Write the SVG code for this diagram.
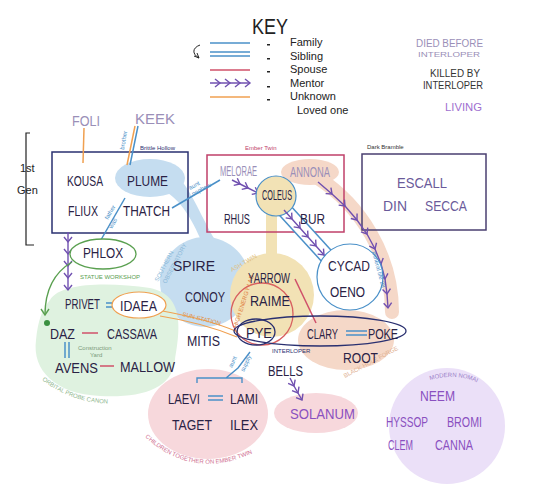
<svg xmlns="http://www.w3.org/2000/svg" width="540" height="494" viewBox="0 0 540 494">
<defs>
<style>
.n{font-family:"Liberation Sans",sans-serif;font-size:15px;fill:#2a2245}
.d{fill:#9a8fb8}
.l{fill:#8a50c0}
.s{font-family:"Liberation Sans",sans-serif;font-size:6px}
.k{font-family:"Liberation Sans",sans-serif;font-size:11px;fill:#222}
.fam{stroke:#4a90c8;stroke-width:1.5;fill:none}
.sp{stroke:#d0506a;stroke-width:1.5;fill:none}
.unk{stroke:#f0a050;stroke-width:1.5;fill:none}
.men{stroke:#7050b0;stroke-width:1.4;fill:none;marker-mid:url(#ch);marker-end:url(#ch)}
</style>
<marker id="ch" viewBox="-6 -5 8 10" markerWidth="8" markerHeight="10" markerUnits="userSpaceOnUse" orient="auto" refX="0" refY="0">
<path d="M-5,-4 L0,0 L-5,4" fill="none" stroke="#7050b0" stroke-width="1.4"/>
</marker>
<marker id="ga" viewBox="-8 -5 10 10" markerWidth="10" markerHeight="10" markerUnits="userSpaceOnUse" orient="auto">
<path d="M-6,-4 L0,0 L-6,4" fill="none" stroke="#5aa050" stroke-width="1.4"/>
</marker>
</defs>

<!-- backgrounds / regions -->
<g id="regions">
<path d="M150,185 C175,190 190,215 200,238 L215,240 C200,215 190,185 170,168 Z" fill="#c5ddf0"/>
<ellipse cx="150" cy="178" rx="35" ry="19" fill="#c5ddf0"/>
<circle cx="205" cy="282" r="45" fill="#c5ddf0"/>
<path d="M266,212 L266,258 L277,258 L277,212 Z" fill="#f2e2b5"/>
<circle cx="272" cy="295" r="42" fill="#f2e2b5"/>
<path d="M318,178 C360,205 392,255 392,312" fill="none" stroke="#f5d8c8" stroke-width="14" stroke-linecap="round"/>
<ellipse cx="310" cy="172" rx="29" ry="13" fill="#f5d8c8"/>
<ellipse cx="346" cy="340" rx="48" ry="30" fill="#f5d8c8"/>
<path d="M50,300 C60,282 110,282 150,288 C185,295 180,330 175,360 C172,390 140,398 100,396 C55,394 32,370 36,340 C38,320 42,310 50,300 Z" fill="#dff2e0"/>
<ellipse cx="208" cy="414" rx="60" ry="45" fill="#f7d8dc"/>
<ellipse cx="316" cy="413" rx="42" ry="20" fill="#f7d8dc"/>
<circle cx="447" cy="426" r="58" fill="#ebe0f8"/>
</g>

<!-- key -->
<g id="key">
<text x="252" y="34" font-family="Liberation Sans, sans-serif" font-size="22" fill="#222" textLength="36" lengthAdjust="spacingAndGlyphs">KEY</text>
<line x1="210" y1="43" x2="250" y2="43" class="fam"/>
<line x1="210" y1="52" x2="250" y2="52" class="fam"/>
<line x1="210" y1="56" x2="250" y2="56" class="fam"/>
<path d="M200,45 C192,48 192,54 199,58 M194,56 L199,58 L197,53" fill="none" stroke="#222" stroke-width="1"/>
<line x1="210" y1="70" x2="250" y2="70" class="sp"/>
<polyline points="210,83 220,83 230,83 240,83 250,83" class="men"/>
<line x1="210" y1="97" x2="250" y2="97" class="unk"/>
<g fill="#222"><rect x="267" y="44" width="3" height="1.5"/><rect x="267" y="58" width="3" height="1.5"/><rect x="267" y="71" width="3" height="1.5"/><rect x="267" y="86" width="3" height="1.5"/><rect x="267" y="99" width="3" height="1.5"/></g>
<text x="290" y="46" class="k">Family</text>
<text x="290" y="60" class="k">Sibling</text>
<text x="290" y="73" class="k">Spouse</text>
<text x="290" y="87" class="k">Mentor</text>
<text x="290" y="100" class="k">Unknown</text>
<text x="297" y="114" class="k" font-size="10">Loved one</text>
<text x="416" y="47" font-family="Liberation Sans, sans-serif" font-size="10" fill="#9a8fb8" textLength="67" lengthAdjust="spacingAndGlyphs">DIED BEFORE</text>
<text x="418" y="57" font-family="Liberation Sans, sans-serif" font-size="8" fill="#9a8fb8" textLength="62" lengthAdjust="spacingAndGlyphs">INTERLOPER</text>
<text x="430" y="77" font-family="Liberation Sans, sans-serif" font-size="10" fill="#333" textLength="50" lengthAdjust="spacingAndGlyphs">KILLED BY</text>
<text x="423" y="89" font-family="Liberation Sans, sans-serif" font-size="10" fill="#333" textLength="60" lengthAdjust="spacingAndGlyphs">INTERLOPER</text>
<text x="445" y="111" font-family="Liberation Sans, sans-serif" font-size="11" fill="#a070d0" textLength="37" lengthAdjust="spacingAndGlyphs">LIVING</text>
</g>

<!-- group boxes -->
<g id="brittle-hollow">
<rect x="52" y="152" width="136" height="81" fill="none" stroke="#2a3070" stroke-width="1.5"/>
<text x="140" y="150" class="s" fill="#2a3070" font-size="7">Brittle Hollow</text>
</g>
<g id="ember-twin">
<rect x="207" y="155" width="137" height="77" fill="none" stroke="#c0406a" stroke-width="1.5"/>
<text x="245" y="150" class="s" fill="#c0406a" font-size="7">Ember Twin</text>
</g>
<g id="dark-bramble">
<rect x="362" y="154" width="124" height="76" fill="none" stroke="#4a3f70" stroke-width="1.5"/>
<text x="367" y="149" class="s" fill="#333" font-size="7">Dark Bramble</text>
</g>
<g id="first-gen">
<path d="M30,133 L26,133 L26,245 L34,245" fill="none" stroke="#222" stroke-width="1.2"/>
<text x="20" y="172" class="k">1st</text>
<text x="17" y="194" class="k">Gen</text>
</g>

<!-- connectors -->
<g id="connectors">
<line x1="84" y1="128" x2="83" y2="163" class="unk"/>
<path d="M135,126 L127,165" class="unk"/>
<path d="M138,126 L130,165" class="fam"/>
<text transform="translate(124,150) rotate(-80)" class="s" fill="#4a90c8">brother</text>
<line x1="125" y1="198" x2="98" y2="245" class="fam"/>
<text transform="translate(108,220) rotate(-60)" class="s" fill="#4a90c8">father</text>
<text transform="translate(112,229) rotate(-60)" class="s" fill="#4a90c8">was</text>
<line x1="172" y1="208" x2="220" y2="180" class="fam"/>
<text transform="translate(190,190) rotate(-28)" class="s" fill="#4a90c8">aunt</text>
<text transform="translate(193,196) rotate(-28)" class="s" fill="#4a90c8">nephew</text>
<polyline points="68,232 68,242 68,254 68,266 68,278 68,290" class="men"/>
<path d="M72,262 C55,272 45,290 45,315" fill="none" stroke="#5aa050" stroke-width="1.4" marker-end="url(#ga)"/>
<circle cx="47" cy="323" r="3" fill="#3a9040"/>
<polyline points="232,180 240,184 248,188 258,193" class="men"/>
<path d="M280,205 L332,262" fill="none" stroke="#4a90c8" stroke-width="16"/>
<path d="M280,205 L332,262" fill="none" stroke="#fff" stroke-width="13"/>
<circle cx="276" cy="196" r="20" fill="#f2e2b5" stroke="#4a90c8" stroke-width="1.2"/>
<polyline points="284,210 292,219 300,228 308,237 316,246 324,255 330,261" class="men"/>
<polyline points="318,182 332,194 345,206 357,220 367,234 375,249 381,264 385,279 387,294 388,308" class="men"/>
<line x1="295" y1="279" x2="316" y2="323" class="sp"/>
<circle cx="262" cy="314" r="31" fill="none" stroke="#d86060" stroke-width="1.3"/>
<path d="M157,310 C185,315 215,322 238,332 M160,316 C185,320 213,327 237,337" fill="none" stroke="#f0a050" stroke-width="1.2"/>
<text transform="translate(182,316) rotate(14)" class="s" fill="#e09040">SUN STATION</text>
<ellipse cx="320" cy="331" rx="86" ry="15" fill="none" stroke="#2a3070" stroke-width="1.3"/>
<ellipse cx="256" cy="332" rx="19" ry="13" fill="none" stroke="#2a3070" stroke-width="1.3"/>
<text x="272" y="353" class="s" fill="#2a3070">INTERLOPER</text>
<line x1="346" y1="331" x2="367" y2="331" class="fam"/>
<line x1="346" y1="335" x2="367" y2="335" class="fam"/>
<line x1="106" y1="303" x2="120" y2="303" class="fam"/>
<line x1="106" y1="307" x2="120" y2="307" class="fam"/>
<line x1="82" y1="333" x2="98" y2="333" class="sp"/>
<line x1="65" y1="342" x2="65" y2="358" class="fam"/>
<line x1="69" y1="342" x2="69" y2="358" class="fam"/>
<line x1="100" y1="366" x2="114" y2="366" class="sp"/>
<line x1="208" y1="396" x2="223" y2="396" class="fam"/>
<line x1="208" y1="400" x2="223" y2="400" class="fam"/>
<path d="M197,383 L197,378 L242,378 L242,383 M226,378 L238,368 L250,352" fill="none" stroke="#4a90c8" stroke-width="1.4"/>
<text transform="translate(232,368) rotate(-65)" class="s" fill="#4a90c8">aunt</text>
<text transform="translate(244,372) rotate(-65)" class="s" fill="#4a90c8">supply</text>
<polyline points="290,378 294,386 298,393 302,400" class="men"/>
</g>

<!-- ellipses around nodes -->
<g id="outlines">
<ellipse cx="103" cy="254" rx="33" ry="15" fill="#fff" stroke="#5aa050" stroke-width="1.3"/>
<ellipse cx="139" cy="305" rx="27" ry="13" fill="#fff" stroke="#f0a050" stroke-width="1.2"/>
<circle cx="350" cy="277" r="33" fill="#fff" stroke="#4a90c8" stroke-width="1.2"/>
</g>

<!-- region labels -->
<g id="region-labels">
<text x="80" y="279" class="s" fill="#5aa050">STATUE WORKSHOP</text>
<text transform="translate(158,282) rotate(-62)" class="s" fill="#8ab8d8">SOUTHERN</text>
<text transform="translate(166,284) rotate(-62)" class="s" fill="#8ab8d8">OBSERVATORY</text>
<text transform="translate(232,272) rotate(-30)" class="s" fill="#e0c080">ASH TWIN</text>
<text transform="translate(237,328) rotate(-72)" class="s" fill="#e08040">HIGH ENERGY LAB</text>
<text transform="translate(78,350)" class="s" fill="#7a9a7a">Construction</text>
<text transform="translate(90,357)" class="s" fill="#7a9a7a">Yard</text>
<text transform="translate(372,252) rotate(75)" class="s" fill="#4a90c8">mineral life 28</text>
<text transform="translate(345,378) rotate(-28)" class="s" fill="#e0b090" font-size="7">BLACK HOLE FORGE</text>
<path id="opc" d="M42,380 Q80,410 137,402" fill="none"/>
<text class="s" fill="#90b890" font-size="7"><textPath href="#opc">ORBITAL PROBE CANON</textPath></text>
<path id="ct" d="M145,437 Q205,492 285,434" fill="none"/>
<text class="s" fill="#d07090"><textPath href="#ct">CHILDREN TOGETHER ON EMBER TWIN</textPath></text>
<path id="mn" d="M430,380 Q465,370 493,392" fill="none"/>
<text class="s" fill="#9a80c8" font-size="7"><textPath href="#mn">MODERN NOMAI</textPath></text>
</g>

<!-- nodes -->
<g id="foli"><text x="72" y="126" class="n d" textLength="28" lengthAdjust="spacingAndGlyphs">FOLI</text></g>
<g id="keek"><text x="135" y="124" class="n d" textLength="40" lengthAdjust="spacingAndGlyphs">KEEK</text></g>
<g id="kousa"><text x="67" y="186" class="n" textLength="36" lengthAdjust="spacingAndGlyphs">KOUSA</text></g>
<g id="plume"><text x="127" y="186" class="n" textLength="41" lengthAdjust="spacingAndGlyphs">PLUME</text></g>
<g id="fliux"><text x="68" y="216" class="n" textLength="30" lengthAdjust="spacingAndGlyphs">FLIUX</text></g>
<g id="thatch"><text x="123" y="216" class="n" textLength="47" lengthAdjust="spacingAndGlyphs">THATCH</text></g>
<g id="melorae"><text x="220" y="176" class="n d" font-size="12" textLength="37" lengthAdjust="spacingAndGlyphs">MELORAE</text></g>
<g id="annona"><text x="290" y="177" class="n d" textLength="40" lengthAdjust="spacingAndGlyphs">ANNONA</text></g>
<g id="coleus"><text x="262" y="200" class="n" font-size="11" textLength="30" lengthAdjust="spacingAndGlyphs">COLEUS</text></g>
<g id="rhus"><text x="224" y="224" class="n" font-size="13" textLength="26" lengthAdjust="spacingAndGlyphs">RHUS</text></g>
<g id="bur"><text x="300" y="224" class="n" textLength="25" lengthAdjust="spacingAndGlyphs">BUR</text></g>
<g id="escall"><text x="397" y="188" class="n" style="fill:#6a5a9a" textLength="50" lengthAdjust="spacingAndGlyphs">ESCALL</text></g>
<g id="din"><text x="383" y="211" class="n" style="fill:#6a5a9a" textLength="24" lengthAdjust="spacingAndGlyphs">DIN</text></g>
<g id="secca"><text x="425" y="211" class="n" style="fill:#6a5a9a" textLength="42" lengthAdjust="spacingAndGlyphs">SECCA</text></g>
<g id="phlox"><text x="83" y="258" class="n" textLength="40" lengthAdjust="spacingAndGlyphs">PHLOX</text></g>
<g id="spire"><text x="173" y="271" class="n" textLength="42" lengthAdjust="spacingAndGlyphs">SPIRE</text></g>
<g id="conoy"><text x="185" y="302" class="n" textLength="40" lengthAdjust="spacingAndGlyphs">CONOY</text></g>
<g id="yarrow"><text x="248" y="283" class="n" font-size="13" textLength="42" lengthAdjust="spacingAndGlyphs">YARROW</text></g>
<g id="raime"><text x="250" y="306" class="n" font-size="13" textLength="40" lengthAdjust="spacingAndGlyphs">RAIME</text></g>
<g id="cycad"><text x="328" y="271" class="n" textLength="42" lengthAdjust="spacingAndGlyphs">CYCAD</text></g>
<g id="oeno"><text x="330" y="297" class="n" textLength="35" lengthAdjust="spacingAndGlyphs">OENO</text></g>
<g id="privet"><text x="65" y="309" class="n" font-size="13" textLength="35" lengthAdjust="spacingAndGlyphs">PRIVET</text></g>
<g id="idaea"><text x="120" y="311" class="n" textLength="37" lengthAdjust="spacingAndGlyphs">IDAEA</text></g>
<g id="daz"><text x="50" y="339" class="n" textLength="25" lengthAdjust="spacingAndGlyphs">DAZ</text></g>
<g id="cassava"><text x="107" y="339" class="n" textLength="50" lengthAdjust="spacingAndGlyphs">CASSAVA</text></g>
<g id="avens"><text x="55" y="373" class="n" textLength="43" lengthAdjust="spacingAndGlyphs">AVENS</text></g>
<g id="mallow"><text x="120" y="372" class="n" textLength="55" lengthAdjust="spacingAndGlyphs">MALLOW</text></g>
<g id="mitis"><text x="187" y="346" class="n" textLength="33" lengthAdjust="spacingAndGlyphs">MITIS</text></g>
<g id="pye"><text x="246" y="338" class="n" textLength="26" lengthAdjust="spacingAndGlyphs">PYE</text></g>
<g id="clary"><text x="307" y="339" class="n" textLength="31" lengthAdjust="spacingAndGlyphs">CLARY</text></g>
<g id="poke"><text x="368" y="339" class="n" textLength="30" lengthAdjust="spacingAndGlyphs">POKE</text></g>
<g id="root"><text x="343" y="363" class="n" textLength="35" lengthAdjust="spacingAndGlyphs">ROOT</text></g>
<g id="bells"><text x="268" y="376" class="n" textLength="35" lengthAdjust="spacingAndGlyphs">BELLS</text></g>
<g id="laevi"><text x="168" y="404" class="n" font-size="13" textLength="32" lengthAdjust="spacingAndGlyphs">LAEVI</text></g>
<g id="lami"><text x="230" y="404" class="n" font-size="13" textLength="28" lengthAdjust="spacingAndGlyphs">LAMI</text></g>
<g id="taget"><text x="172" y="430" class="n" textLength="40" lengthAdjust="spacingAndGlyphs">TAGET</text></g>
<g id="ilex"><text x="230" y="430" class="n" textLength="28" lengthAdjust="spacingAndGlyphs">ILEX</text></g>
<g id="solanum"><text x="290" y="419" class="n l" textLength="65" lengthAdjust="spacingAndGlyphs">SOLANUM</text></g>
<g id="neem"><text x="420" y="401" class="n l" font-size="12" textLength="35" lengthAdjust="spacingAndGlyphs">NEEM</text></g>
<g id="hyssop"><text x="386" y="427" class="n l" font-size="12" textLength="42" lengthAdjust="spacingAndGlyphs">HYSSOP</text></g>
<g id="bromi"><text x="447" y="427" class="n l" font-size="12" textLength="35" lengthAdjust="spacingAndGlyphs">BROMI</text></g>
<g id="clem"><text x="388" y="450" class="n l" font-size="13" textLength="25" lengthAdjust="spacingAndGlyphs">CLEM</text></g>
<g id="canna"><text x="435" y="450" class="n l" font-size="13" textLength="38" lengthAdjust="spacingAndGlyphs">CANNA</text></g>
</svg>
